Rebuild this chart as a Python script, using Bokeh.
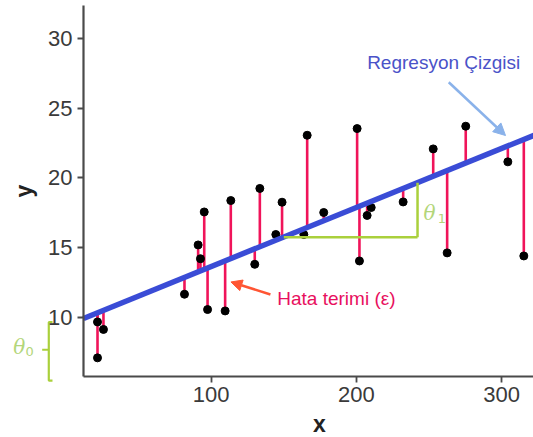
import numpy as np
from bokeh.plotting import figure
from bokeh.models import Label, Arrow, NormalHead, FixedTicker, LinearAxis, Range1d
from bokeh.embed import file_html
from bokeh.resources import INLINE

# ---- data ----
x_values = [21.7, 21.7, 25.8, 81.6, 91.0, 92.6, 95.2, 97.5, 109.6, 113.5, 130.0,
            133.5, 144.5, 148.8, 166.1, 163.8, 177.5, 200.5, 202.1, 207.4, 210.2,
            232.2, 252.9, 262.5, 275.3, 304.3, 315.3]
y_values = [7.08, 9.66, 9.12, 11.65, 15.19, 14.2, 17.56, 10.55, 10.45, 18.38, 13.8,
            19.25, 15.94, 18.26, 23.07, 15.94, 17.52, 23.55, 14.04, 17.31, 17.88,
            18.28, 22.09, 14.62, 23.72, 21.16, 14.4]
intercept = 9.4
slope = 0.0424
x_ticks = [100, 200, 300]
y_ticks = [10, 15, 20, 25, 30]

x_lo, x_hi = 12.05, 321.97     # axis extent
y_lo, y_hi = 5.76, 32.39

xs = np.array(x_values)
ys = np.array(y_values)
fitted = intercept + slope * xs

p = figure(width=533, height=437, title=None,
           x_range=Range1d(-45.11, 321.97), y_range=Range1d(1.358, 32.75),
           x_axis_type=None, y_axis_type=None,
           output_backend="svg", toolbar_location=None, min_border=0)
p.outline_line_color = None
p.background_fill_color = "white"
p.border_fill_color = "white"

def style_axis(ax):
    ax.axis_line_color = "#4a4a4a"
    ax.axis_line_width = 2.2
    ax.major_tick_line_color = "#4a4a4a"
    ax.major_tick_line_width = 1.8
    ax.major_tick_out = 6
    ax.major_tick_in = 0
    ax.minor_tick_line_color = None
    ax.major_label_text_font = "Liberation Sans"
    ax.major_label_text_font_size = "22px"
    ax.major_label_text_color = "#3a3a3a"
    ax.major_label_standoff = 5
    ax.axis_label_text_font = "Liberation Sans"
    ax.axis_label_text_font_size = "23px"
    ax.axis_label_text_font_style = "bold"
    ax.axis_label_text_color = "#222222"

xaxis = LinearAxis(fixed_location=y_lo, bounds=(x_lo, 336), ticker=FixedTicker(ticks=x_ticks))
style_axis(xaxis)
p.add_layout(xaxis, "below")
# x axis title (placed slightly right of centre, as in the reference)
p.add_layout(Label(x=174.6, y=2.3, text="x", text_font="Liberation Sans", text_font_size="23px",
                   text_font_style="bold", text_color="#222222", text_align="center",
                   text_baseline="alphabetic"))

yaxis = LinearAxis(fixed_location=x_lo, bounds=(y_lo, y_hi), ticker=FixedTicker(ticks=y_ticks), axis_label="y")
style_axis(yaxis)
yaxis.axis_label_standoff = 8
p.add_layout(yaxis, "left")

# error stems
p.segment(x0=xs, y0=ys, x1=xs, y1=fitted, line_color="#f0145a", line_width=2.6)
# points
p.scatter(xs, ys, size=8, fill_color="black", line_color="black")
# regression line
line_x = np.array([x_lo, x_hi + 10])
p.line(line_x, intercept + slope * line_x, line_color="#3a4cd6", line_width=5.5)

# theta1 slope marker
green = "#aad03c"
t1_x0, t1_x1, t1_y = 150.0, 242.1, 15.75
p.line([t1_x0, t1_x1], [t1_y, t1_y], line_color=green, line_width=2.5)
p.line([t1_x1, t1_x1], [t1_y, intercept + slope * t1_x1], line_color=green, line_width=2.5)
p.add_layout(Label(x=246.2, y=17.45, text="θ", text_font="DejaVu Serif", text_font_style="italic",
                   text_font_size="20px", text_color="#b3d67a", text_baseline="alphabetic"))
p.add_layout(Label(x=256.0, y=17.1, text="1", text_font="DejaVu Sans",
                   text_font_size="13px", text_color="#b3d67a", text_baseline="alphabetic"))

# theta0 brace (left of the axis)
bx, bx_r, bx_l = -11.85, -9.3, -16.4
b_top, b_bot, b_mid = 9.64, 5.45, 7.66
p.line([bx_r, bx, bx, bx_r], [b_top, b_top, b_bot, b_bot], line_color=green, line_width=2.2)
p.line([bx_l, bx], [b_mid, b_mid], line_color=green, line_width=2.2)
p.add_layout(Label(x=-36.4, y=7.89, text="θ", text_font="DejaVu Serif", text_font_style="italic",
                   text_font_size="20px", text_color="#b3d67a", text_baseline="alphabetic"))
p.add_layout(Label(x=-27.9, y=7.53, text="0", text_font="DejaVu Sans",
                   text_font_size="13px", text_color="#b3d67a", text_baseline="alphabetic"))

# annotations
p.add_layout(Label(x=207.4, y=28.27, text="Regresyon Çizgisi", text_font="Liberation Sans",
                   text_font_size="19px", text_color="#4a52c8", text_baseline="alphabetic"))
p.add_layout(Arrow(end=NormalHead(size=12, fill_color="#8ab2ea", line_color="#8ab2ea"),
                   x_start=263.6, y_start=26.88, x_end=302.7, y_end=23.05,
                   line_color="#8ab2ea", line_width=2.5))
p.add_layout(Label(x=145.5, y=11.34, text="Hata terimi (ε)", text_font="Liberation Sans",
                   text_font_size="19px", text_color="#e8105e", text_baseline="alphabetic"))
p.add_layout(Arrow(end=NormalHead(size=11, fill_color="#ff5533", line_color="#ff5533"),
                   x_start=140.8, y_start=11.63, x_end=113.6, y_end=12.53,
                   line_color="#ff5533", line_width=2.5))

open("out.html", "w").write(file_html(p, INLINE))
